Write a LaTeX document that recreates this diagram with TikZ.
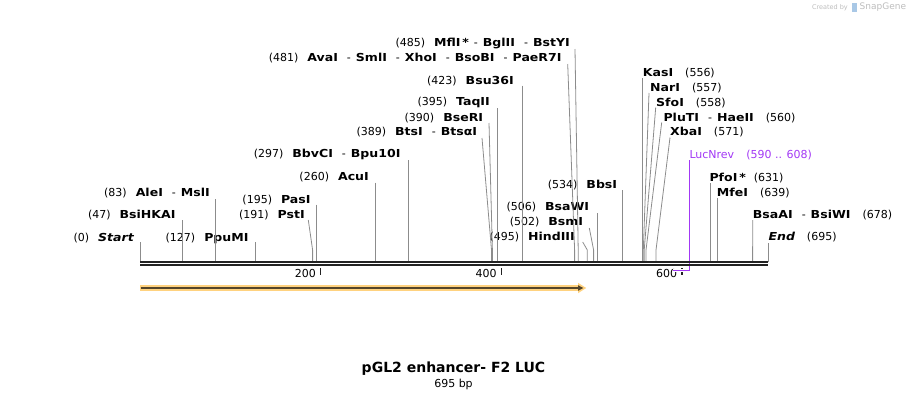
\documentclass[tikz,border=0pt]{standalone}
\usepackage{fontspec}
\setmainfont{DejaVu Sans}
\newfontfamily\enzfont{DejaVu Sans}[FakeStretch=1.14]
\usetikzlibrary{positioning}
\definecolor{seqgray}{HTML}{222222}
\definecolor{cutgray}{HTML}{8C8C8C}
\definecolor{primerpurple}{HTML}{A238F5}
\definecolor{featorange}{HTML}{FFD27F}
\definecolor{featdark}{HTML}{54452A}
\definecolor{markgray}{HTML}{BDBDBD}
\definecolor{markblue}{HTML}{A9C8E6}
\tikzset
{
    site/.style   = {inner sep=0pt, text height=8pt, text depth=0pt, font=\fontsize{11}{13}\selectfont},
    lsite/.style  = {site, anchor=east},
    rsite/.style  = {site, anchor=west},
    cut/.style    = {draw=cutgray, line width=0.8pt},
    tick/.style   = {draw=seqgray, line width=1.5pt},
    ruler/.style  = {site, anchor=east}
}
\newcommand{\enz}[1]{{\enzfont\bfseries #1}}
\newcommand{\enzsep}{\hspace{9pt}-\hspace{5pt}}
\newcommand{\posgap}{\hspace{9pt}}

\begin{document}
\begin{tikzpicture}[x=1pt, y=-1pt]
\useasboundingbox (0,0) rectangle (909,400);

% positions on the sequence
\coordinate (p0)   at (140.3,262);
\coordinate (p47)  at (182.7,262);
\coordinate (p83)  at (215.3,262);
\coordinate (p127) at (255,262);
\coordinate (p191) at (312.6,262);
\coordinate (p195) at (316,262);
\coordinate (p260) at (375,262);
\coordinate (p297) at (408.4,262);
\coordinate (p389) at (491.5,262);
\coordinate (p390) at (492.4,262);
\coordinate (p395) at (496.9,262);
\coordinate (p423) at (522.2,262);
\coordinate (p481) at (574.6,262);
\coordinate (p485) at (578.2,262);
\coordinate (p495) at (587.3,262);
\coordinate (p502) at (593.6,262);
\coordinate (p506) at (597.2,262);
\coordinate (p534) at (622.5,262);
\coordinate (p556) at (642.4,262);
\coordinate (p557) at (643.3,262);
\coordinate (p558) at (644.2,262);
\coordinate (p560) at (646,262);
\coordinate (p571) at (656,262);
\coordinate (p631) at (710.2,262);
\coordinate (p639) at (717.4,262);
\coordinate (p678) at (752.6,262);
\coordinate (p695) at (768,262);
\coordinate (q590) at (673,270.5);
\coordinate (q608) at (689.3,270.5);

% left labels
\node (start)[lsite]   at (134,237)   {(0)\posgap\enz{\itshape Start}};
\node (bsihkai)[lsite] at (175.7,214) {(47)\posgap\enz{BsiHKAI}};
\node (alei)[lsite]    at (210,192.7) {(83)\posgap\enz{AleI}\enzsep\enz{MslI}};
\node (ppumi)[lsite]   at (248.7,237) {(127)\posgap\enz{PpuMI}};
\node (psti)[lsite]    at (305,214)   {(191)\posgap\enz{PstI}};
\node (pasi)[lsite]    at (310.7,199) {(195)\posgap\enz{PasI}};
\node (acui)[lsite]    at (369,176)   {(260)\posgap\enz{AcuI}};
\node (bbvci)[lsite]   at (400.7,153.3) {(297)\posgap\enz{BbvCI}\enzsep\enz{Bpu10I}};
\node (btsi)[lsite]    at (477.3,131.7) {(389)\posgap\enz{BtsI}\enzsep\enz{BtsαI}};
\node (bseri)[lsite]   at (483.3,117.3) {(390)\posgap\enz{BseRI}};
\node (taqii)[lsite]   at (490,101.7) {(395)\posgap\enz{TaqII}};
\node (bsu)[lsite]     at (514,80)    {(423)\posgap\enz{Bsu36I}};
\node (avai)[lsite]    at (561.7,57.3) {(481)\posgap\enz{AvaI}\enzsep\enz{SmlI}\enzsep\enz{XhoI}\enzsep\enz{BsoBI}\enzsep\enz{PaeR7I}};
\node (mfli)[lsite]    at (570,42.3)  {(485)\posgap\enz{MflI\,*}\hspace{-4pt}\enzsep\enz{BglII}\enzsep\enz{BstYI}};
\node (hindiii)[lsite] at (575,236.7) {(495)\posgap\enz{HindIII}};
\node (bsmi)[lsite]    at (583.3,221.7) {(502)\posgap\enz{BsmI}};
\node (bsawi)[lsite]   at (589.3,206.7) {(506)\posgap\enz{BsaWI}};
\node (bbsi)[lsite]    at (617.3,184) {(534)\posgap\enz{BbsI}};

% right labels
\node (kasi)[rsite]    at (642.7,72.3)  {\enz{KasI}\hspace{12pt}(556)};
\node (nari)[rsite]    at (650,87.3)    {\enz{NarI}\hspace{12pt}(557)};
\node (sfoi)[rsite]    at (656,102.3)   {\enz{SfoI}\hspace{12pt}(558)};
\node (pluti)[rsite]   at (663.3,117.3) {\enz{PluTI}\enzsep\enz{HaeII}\hspace{12pt}(560)};
\node (xbai)[rsite]    at (670,131.7)   {\enz{XbaI}\hspace{12pt}(571)};
\node (lucnrev)[rsite, text=primerpurple] at (689.3,154.7) {LucNrev\hspace{12pt}(590 .. 608)};
\node (pfoi)[rsite]    at (709.3,177.3) {\enz{PfoI\,*}\hspace{8pt}(631)};
\node (mfei)[rsite]    at (716.7,192.3) {\enz{MfeI}\hspace{12pt}(639)};
\node (bsaai)[rsite]   at (752.7,214)   {\enz{BsaAI}\enzsep\enz{BsiWI}\hspace{12pt}(678)};
\node (finish)[rsite]  at (768.3,236.7) {\enz{\itshape End}\hspace{12pt}(695)};

% cut lines
\draw[cut] (start.east)   ++(6.3,5)   -- (p0);
\draw[cut] (bsihkai.east) ++(7,6)     -- (p47);
\draw[cut] (alei.east)    ++(5.3,6.3) -- (p83);
\draw[cut] (ppumi.east)   ++(6.3,5)   -- (p127);
\draw[cut] (psti.east)    ++(3.3,6)   -- ([yshift=12pt]p191) -- (p191);
\draw[cut] (pasi.east)    ++(5.3,5.5) -- (p195);
\draw[cut] (acui.east)    ++(6,6.5)   -- (p260);
\draw[cut] (bbvci.east)   ++(7.7,6.7) -- (p297);
\draw[cut] (btsi.east)    ++(4.7,6.3) -- ([yshift=12pt]p389) -- (p389);
\draw[cut] (bseri.east)   ++(5.7,5.7) -- ([yshift=12pt]p390) -- (p390);
\draw[cut] (taqii.east)   ++(6.9,6.3) -- (p395);
\draw[cut] (bsu.east)     ++(8.2,5.5) -- (p423);
\draw[cut] (avai.east)    ++(6,6.7)   -- ([yshift=12pt]p481) -- (p481);
\draw[cut] (mfli.east)    ++(5,6.7)   -- ([yshift=12pt]p485) -- (p485);
\draw[cut] (hindiii.east) ++(7.7,5.3) -- ([yshift=12pt]p495) -- (p495);
\draw[cut] (bsmi.east)    ++(6,6.3)   -- ([yshift=12pt]p502) -- (p502);
\draw[cut] (bsawi.east)   ++(7.9,6.3) -- (p506);
\draw[cut] (bbsi.east)    ++(5.2,6)   -- (p534);

\draw[cut] (kasi.west)    ++(-0.3,5.7) -- (p556);
\draw[cut] (nari.west)    ++(-1,5.7)   -- ([yshift=12pt]p557) -- (p557);
\draw[cut] (sfoi.west)    ++(-0.3,5.2) -- ([yshift=12pt]p558) -- (p558);
\draw[cut] (pluti.west)   ++(-1.6,5.2) -- ([yshift=12pt]p560) -- (p560);
\draw[cut] (xbai.west)    ++(0,5.8)    -- ([yshift=12pt]p571) -- (p571);
\draw[cut] (pfoi.west)    ++(0.9,5.7)  -- (p631);
\draw[cut] (mfei.west)    ++(0.7,5.7)  -- (p639);
\draw[cut] (bsaai.west)   ++(0,6)      -- (p678);
\draw[cut] (finish.west)  ++(-0.3,6.3) -- (p695);

% primer
\draw[primerpurple, line width=1pt] (lucnrev.west) ++(0,5.3) -- (q608);

% sequence
\draw[seqgray, line width=2.4pt] (140,262) -- (768,262);
\draw[seqgray, line width=1.8pt] (140,265.2) -- (768,265.2);

% ruler
\draw[tick] (320.7,268) -- (320.7,274.5);
\draw[tick] (501.4,268) -- (501.4,274.5);
\draw[tick] (682.1,268) -- (682.1,274.5);
\node (r200)[ruler] at (316,273) {200};
\node (r400)[ruler] at (496.7,273) {400};
\node (r600)[ruler] at (677.4,273) {600};
\draw[white, line width=3pt] (q590) -- (q608);
\draw[primerpurple, line width=1.6pt] (q590) -- (q608);

% feature
\fill[featorange] (140,285) rectangle (580,291);
\fill[featorange] (578,282.8) -- (586.2,288) -- (578,293.2) -- cycle;
\draw[featdark, line width=2.3pt] (140.5,288) -- (579,288);
\fill[featdark] (578,285.2) -- (583.3,288) -- (578,290.8) -- cycle;

% title
\node (title) at (453.5,369) {\fontsize{14}{17}\selectfont\bfseries pGL2 enhancer- F2 LUC};
\node (size) at (453.5,384.5) {\fontsize{11}{13}\selectfont 695 bp};

% watermark
\node (made)[anchor=east, inner sep=0pt, text=markgray] at (848,7.5) {\fontsize{6.5}{8}\selectfont Created by};
\fill[markblue] (852,3) rectangle (856.5,12);
\node (brand)[anchor=west, inner sep=0pt, text=markgray] at (859.5,7.5) {\fontsize{9}{10}\selectfont SnapGene};
\end{tikzpicture}
\end{document}
